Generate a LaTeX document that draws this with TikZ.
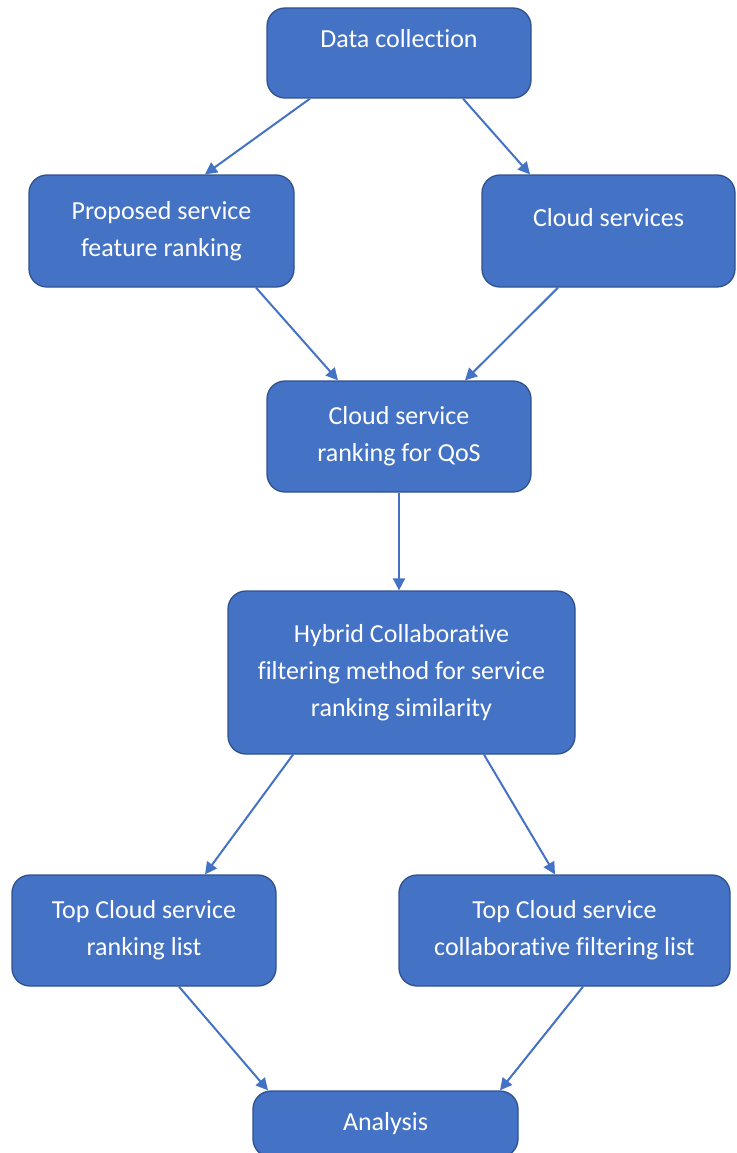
\documentclass[tikz,border=0pt]{standalone}
\usepackage{fontspec}
\setmainfont{Carlito}[Ligatures=NoCommon]
\usetikzlibrary{arrows.meta}
\definecolor{boxfill}{HTML}{4472C4}
\definecolor{boxline}{HTML}{2F528F}
\tikzset{
  box/.style={draw=boxline, line width=1.3pt, fill=boxfill, rounded corners=18pt,
    text=white, align=center, font=\fontsize{26}{37}\selectfont, inner sep=0pt},
  arr/.style={draw=boxfill, line width=2pt, -{Triangle[length=12pt,width=12pt]}},
  upshift/.style={text height=18pt, text depth=28pt}
}
\begin{document}
\begin{tikzpicture}[x=1pt,y=-1pt]
\useasboundingbox (0,0) rectangle (736,1153);
\node[box, minimum width=264pt, minimum height=90pt, upshift] (dc) at (399,53) {Data collection};
\node[box, minimum width=265pt, minimum height=112pt] (pf) at (161.5,231) {Proposed service\\feature ranking};
\node[box, minimum width=253pt, minimum height=112pt, upshift] (cs) at (608.5,231) {Cloud services};
\node[box, minimum width=264pt, minimum height=111pt] (qos) at (399,436.5) {Cloud service\\ranking for QoS};
\node[box, minimum width=347pt, minimum height=163pt] (hy) at (401.5,672.5) {Hybrid Collaborative\\filtering method for service\\ranking similarity};
\node[box, minimum width=264pt, minimum height=111pt] (tr) at (144,930.5) {Top Cloud service\\ranking list};
\node[box, minimum width=331pt, minimum height=111pt] (tc) at (564.5,930.5) {Top Cloud service\\collaborative filtering list};
\node[box, minimum width=265pt, minimum height=66pt] (an) at (385.5,1124) {Analysis};

\draw[arr] ([xshift=-89pt]dc.south) -- ([xshift=43.5pt]pf.north);
\draw[arr] ([xshift=64pt]dc.south) -- ([xshift=-78.5pt]cs.north);
\draw[arr] ([xshift=94.5pt]pf.south) -- ([xshift=-61pt]qos.north);
\draw[arr] ([xshift=-50.5pt]cs.south) -- ([xshift=66pt]qos.north);
\draw[arr] (qos.south) -- (qos.south |- hy.north);
\draw[arr] ([xshift=-108.5pt]hy.south) -- ([xshift=61pt]tr.north);
\draw[arr] ([xshift=82.5pt]hy.south) -- ([xshift=-9.5pt]tc.north);
\draw[arr] ([xshift=35pt]tr.south) -- ([xshift=-117.5pt]an.north);
\draw[arr] ([xshift=18.5pt]tc.south) -- ([xshift=114.5pt]an.north);
\end{tikzpicture}
\end{document}
